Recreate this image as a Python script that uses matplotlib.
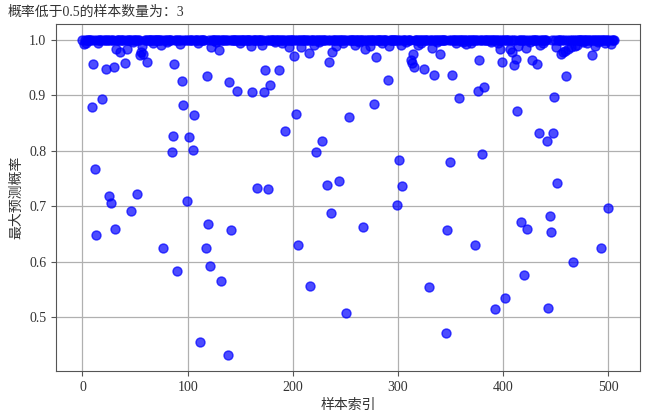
import numpy as np
import matplotlib
matplotlib.use("Agg")
import matplotlib.pyplot as plt

plt.rcParams['font.family'] = ['Liberation Serif', 'Noto Sans CJK SC']
plt.rcParams['axes.unicode_minus'] = False
plt.rcParams['text.color'] = '#333333'
plt.rcParams['axes.labelcolor'] = '#333333'
plt.rcParams['xtick.color'] = '#333333'
plt.rcParams['ytick.color'] = '#333333'

n_samples = 506
band_value = 0.999  # most samples sit right under 1.0

# samples that fall clearly below the band (index, max probability)
low_idx = [9, 10, 12, 13, 19, 22, 25, 27, 30, 31, 40, 46, 52, 61, 77, 85, 86, 87, 90, 95,
           96, 99, 101, 105, 106, 112, 117, 118, 119, 121, 132, 138, 139, 141, 147, 161, 166,
           173, 174, 176, 178, 187, 193, 201, 203, 205, 215, 216, 222, 228, 232, 234, 236,
           244, 251, 253, 267, 277, 279, 290, 299, 300, 301, 304, 312, 313, 314, 315, 325,
           329, 334, 340, 346, 347, 349, 351, 358, 373, 376, 377, 380, 382, 392, 399, 402,
           410, 412, 413, 417, 420, 423, 427, 432, 434, 442, 443, 444, 445, 447, 448, 451,
           460, 466, 484, 493, 500]
low_val = [0.879, 0.957, 0.768, 0.649, 0.894, 0.947, 0.718, 0.706, 0.950, 0.659, 0.958, 0.692,
           0.723, 0.959, 0.625, 0.798, 0.827, 0.956, 0.584, 0.926, 0.882, 0.710, 0.825, 0.801,
           0.865, 0.455, 0.625, 0.935, 0.669, 0.593, 0.565, 0.432, 0.924, 0.658, 0.908, 0.906,
           0.733, 0.906, 0.946, 0.731, 0.919, 0.946, 0.835, 0.971, 0.866, 0.631, 0.976, 0.557,
           0.798, 0.818, 0.739, 0.960, 0.688, 0.746, 0.507, 0.860, 0.662, 0.885, 0.969, 0.927,
           0.703, 0.921, 0.783, 0.736, 0.963, 0.958, 0.975, 0.950, 0.948, 0.554, 0.936, 0.975,
           0.472, 0.658, 0.780, 0.937, 0.895, 0.630, 0.908, 0.964, 0.795, 0.914, 0.515, 0.960,
           0.535, 0.954, 0.965, 0.871, 0.671, 0.577, 0.659, 0.964, 0.957, 0.832, 0.817, 0.516,
           0.682, 0.653, 0.832, 0.896, 0.742, 0.934, 0.600, 0.972, 0.624, 0.697]

# samples just under the band
near_idx = [1, 32, 36, 42, 55, 56, 57, 58, 75, 93, 122, 130, 160, 171, 196, 208, 220, 237,
            241, 259, 269, 273, 291, 303, 319, 332, 365, 397, 406, 408, 414, 422, 435, 450,
            455, 457, 459, 462, 464, 468, 470, 487, 502,
            3, 15, 48, 67, 80, 110, 127, 150, 183, 190, 225, 248, 263, 285, 308, 322, 337,
            355, 362, 369, 388, 395, 425, 438, 476, 480, 490, 497]
near_val = [0.993, 0.983, 0.978, 0.984, 0.972, 0.977, 0.988, 0.975, 0.990, 0.993, 0.987, 0.981,
            0.989, 0.990, 0.987, 0.986, 0.991, 0.978, 0.989, 0.990, 0.983, 0.989, 0.989, 0.991,
            0.990, 0.985, 0.993, 0.983, 0.983, 0.978, 0.989, 0.985, 0.991, 0.987,
            0.974, 0.977, 0.980, 0.983, 0.986, 0.988, 0.991, 0.989, 0.993,
            0.994, 0.994, 0.995, 0.994, 0.995, 0.994, 0.995, 0.994, 0.995, 0.994, 0.995, 0.994,
            0.995, 0.994, 0.995, 0.994, 0.995, 0.994, 0.995, 0.994, 0.995, 0.994, 0.995, 0.994,
            0.995, 0.994, 0.995, 0.994]

probs = np.full(n_samples, band_value)
probs[near_idx] = near_val
probs[low_idx] = low_val
probs[[0, 100, 200, 300, 400, 505]] = 1.0

n_low = int((probs < 0.5).sum())

fig = plt.figure(figsize=(6.5, 4.13), dpi=100)
ax = fig.add_axes([0.086, 0.102, 0.899, 0.840])
ax.scatter(np.arange(n_samples), probs, s=42, color='blue', alpha=0.7, zorder=3)
ax.grid(True, color='#b0b0b0', linewidth=0.9)
ax.set_axisbelow(True)
ax.set_xlabel('样本索引', fontsize=10)
ax.set_ylabel('最大预测概率', fontsize=10)
ax.tick_params(labelsize=10, color='#555555')
for sp in ax.spines.values():
    sp.set_color('#555555')
fig.text(0.012, 0.985, f'概率低于0.5的样本数量为：{n_low}', fontsize=10, va='top', ha='left')

fig.savefig('out.png', dpi=100)
